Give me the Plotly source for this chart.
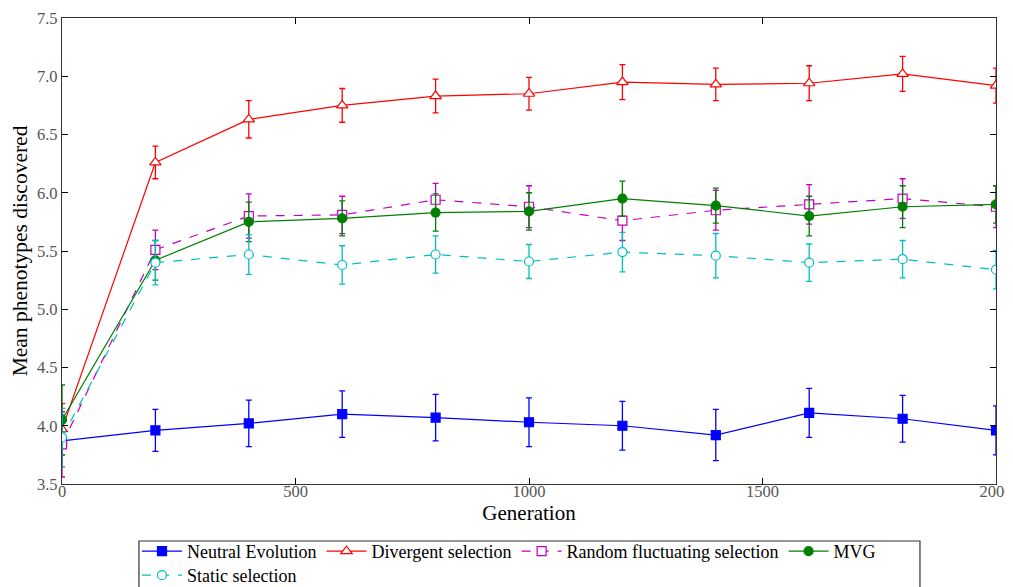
import plotly.graph_objects as go

generations = [0, 200, 400, 600, 800, 1000, 1200, 1400, 1600, 1800, 2000]

neutral = [3.87, 3.96, 4.02, 4.10, 4.07, 4.03, 4.00, 3.92, 4.11, 4.06, 3.96]
neutral_err = [0.22, 0.18, 0.20, 0.20, 0.20, 0.21, 0.21, 0.22, 0.21, 0.20, 0.21]

divergent = [3.97, 6.26, 6.63, 6.75, 6.83, 6.85, 6.95, 6.93, 6.94, 7.02, 6.92]
divergent_err = [0.22, 0.14, 0.16, 0.145, 0.145, 0.14, 0.15, 0.14, 0.15, 0.15, 0.15]

random_fluct = [3.84, 5.51, 5.80, 5.81, 5.94, 5.88, 5.76, 5.85, 5.90, 5.95, 5.88]
random_fluct_err = [0.28, 0.17, 0.19, 0.16, 0.14, 0.18, 0.17, 0.17, 0.17, 0.17, 0.18]

mvg = [4.05, 5.42, 5.75, 5.78, 5.83, 5.84, 5.95, 5.89, 5.80, 5.88, 5.90]
mvg_err = [0.30, 0.17, 0.17, 0.15, 0.16, 0.16, 0.15, 0.15, 0.17, 0.18, 0.16]

static = [3.90, 5.40, 5.47, 5.38, 5.47, 5.41, 5.49, 5.46, 5.40, 5.43, 5.34]
static_err = [0.25, 0.19, 0.17, 0.165, 0.16, 0.146, 0.17, 0.19, 0.16, 0.16, 0.165]

series = [
    ("Neutral Evolution", neutral, neutral_err, "#0000ff", "solid", "square", True, "legend"),
    ("Divergent selection", divergent, divergent_err, "#ff0000", "solid", "triangle-up", False, "legend"),
    ("Random fluctuating selection", random_fluct, random_fluct_err, "#bf00bf", "dash", "square", False, "legend"),
    ("MVG", mvg, mvg_err, "#008000", "solid", "circle", True, "legend"),
    ("Static selection", static, static_err, "#00bfbf", "dash", "circle", False, "legend2"),
]

FONT = "Liberation Serif"

# page body margin puts the figure 8px right/down; keep it inside the window
PLOT_W, PLOT_H = 934, 466
FIG_W, FIG_H = 1005, 579
M_L, M_T = 54, 10
M_R = FIG_W - M_L - PLOT_W
M_B = FIG_H - M_T - PLOT_H

fig = go.Figure()
for name, ys, errs, col, dash, sym, filled, leg in series:
    fig.add_trace(go.Scatter(
        x=generations, y=ys, name=name, mode="lines+markers", legend=leg,
        line=dict(color=col, width=1.2, dash=dash),
        marker=dict(symbol=sym, size=9 if sym != "triangle-up" else 10,
                    color=col if filled else "white",
                    line=dict(color=col, width=1.2)),
        error_y=dict(type="data", array=errs, visible=True, color=col,
                     thickness=1.3, width=3),
    ))

axis_common = dict(
    showgrid=False, zeroline=False, showline=True, linecolor="#333333",
    linewidth=1.3, mirror="ticks", ticks="inside", ticklen=6, tickcolor="#000",
    automargin=False,
    tickfont=dict(family=FONT, size=16.5, color="#555555"),
)

legend_common = dict(
    orientation="h", xanchor="left", yanchor="top",
    font=dict(family=FONT, size=18, color="black"),
    borderwidth=0, bgcolor="rgba(0,0,0,0)", itemwidth=40, tracegroupgap=0,
)

fig.update_layout(
    width=FIG_W, height=FIG_H,
    margin=dict(l=M_L, r=M_R, t=M_T, b=M_B, autoexpand=False),
    paper_bgcolor="white", plot_bgcolor="white",
    font=dict(family=FONT, color="black"),
    xaxis=dict(range=[0, 2000], tickvals=[0, 500, 1000, 1500, 2000],
               ticklabelstandoff=-8,
               title=dict(text="Generation", font=dict(family=FONT, size=21), standoff=5),
               **axis_common),
    yaxis=dict(range=[3.5, 7.5], tickvals=[3.5, 4.0, 4.5, 5.0, 5.5, 6.0, 6.5, 7.0, 7.5],
               ticktext=["3.5", "4.0", "4.5", "5.0", "5.5", "6.0", "6.5", "7.0", "7.5"],
               title=dict(text="Mean phenotypes discovered", font=dict(family=FONT, size=21.5), standoff=16),
               **axis_common),
    legend=dict(x=0.0803, y=-0.1052, **legend_common),
    legend2=dict(x=0.0803, y=-0.1567, **legend_common),
    showlegend=True,
    shapes=[dict(type="rect", xref="paper", yref="paper",
                 x0=0.0824, x1=0.9186, y0=-0.30, y1=-0.1223,
                 line=dict(color="#333333", width=1.2), fillcolor="rgba(0,0,0,0)",
                 layer="above")],
)

fig.write_html(
    "out.html",
    post_script="document.documentElement.style.overflow='hidden';document.body.style.overflow='hidden';",
)
